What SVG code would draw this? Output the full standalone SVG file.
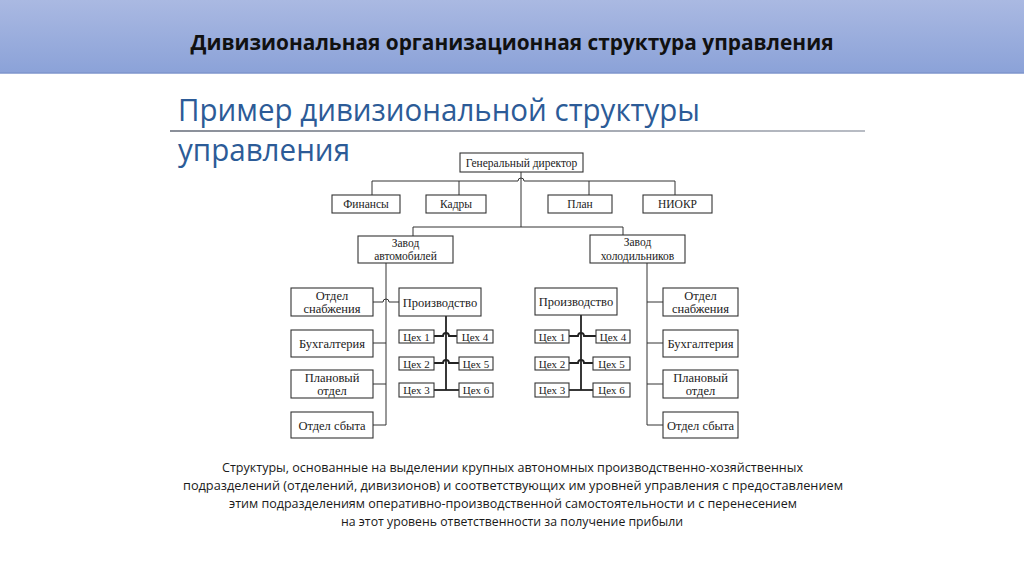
<svg xmlns="http://www.w3.org/2000/svg" width="1024" height="574" viewBox="0 0 1024 574">
<defs>
<linearGradient id="hdr" x1="0" y1="0" x2="0" y2="1">
<stop offset="0" stop-color="#aab9e2"/>
<stop offset="1" stop-color="#8ba2d8"/>
</linearGradient>
<linearGradient id="rule" x1="0" y1="0" x2="1" y2="0">
<stop offset="0" stop-color="#8a8f99"/>
<stop offset="1" stop-color="#b8bcc4"/>
</linearGradient>
<style>
.box{fill:#fff;stroke:#333;stroke-width:1.1}
.t{font-family:"Liberation Serif","Times New Roman",serif;font-size:11.5px;fill:#222;text-anchor:middle}
.tc{font-family:"Liberation Serif","Times New Roman",serif;font-size:11px;fill:#222;text-anchor:middle}
.t2{font-family:"Liberation Serif","Times New Roman",serif;font-size:12.5px;fill:#222;text-anchor:middle}
.ln{fill:none;stroke:#333;stroke-width:1}
.lnb{fill:none;stroke:#222;stroke-width:1.8}
.desc{font-family:"Open Sans","Liberation Sans",sans-serif;font-size:13.5px;fill:#1a1a1a;text-anchor:middle}
</style>
</defs>
<rect width="1024" height="574" fill="#fff"/>
<g id="header">
<rect x="0" y="0" width="1024" height="73" fill="url(#hdr)"/>
<line x1="0" y1="73" x2="1024" y2="73" stroke="#7e95cc" stroke-width="1.5"/>
<text x="512" y="50" text-anchor="middle" font-family="'Open Sans','Liberation Sans',sans-serif" font-weight="bold" font-size="21" fill="#111" textLength="643" lengthAdjust="spacingAndGlyphs">Дивизиональная организационная структура управления</text>
</g>
<g id="subtitle">
<text x="178" y="121" font-family="'Open Sans','Liberation Sans',sans-serif" font-size="31" fill="#2c5b97" textLength="522" lengthAdjust="spacingAndGlyphs">Пример дивизиональной структуры</text>
<rect x="170" y="130" width="695" height="2" fill="url(#rule)"/>
<text x="178" y="161" font-family="'Open Sans','Liberation Sans',sans-serif" font-size="31" fill="#2c5b97" textLength="172" lengthAdjust="spacingAndGlyphs">управления</text>
</g>
<g id="connectors">
<path class="ln" d="M521 172 V227"/>
<path class="ln" d="M372 181 H518 A3 3 0 0 1 524 181 H675"/>
<path class="ln" d="M372 181 V195 M459 181 V195 M589 181 V195 M675 181 V195"/>
<path class="ln" d="M413 236 V227 H623 V235"/>
<path class="ln" d="M386 263 V425 H373"/>
<path class="ln" d="M373 302 H383 A3 3 0 0 1 389 302 H399"/>
<path class="ln" d="M373 343 H386 M373 384 H386"/>
<path class="lnb" d="M446 316 V390"/>
<path class="lnb" d="M434 336 H443 A3 3 0 0 1 449 336 H457"/>
<path class="lnb" d="M434 363 H443 A3 3 0 0 1 449 363 H459"/>
<path class="lnb" d="M434 390 H459"/>
<path class="lnb" d="M581 315 V390"/>
<path class="lnb" d="M569 336 H578 A3 3 0 0 1 584 336 H596"/>
<path class="lnb" d="M569 363 H578 A3 3 0 0 1 584 363 H593"/>
<path class="lnb" d="M569 390 H593"/>
<path class="ln" d="M647 263 V425 H663 M647 302 H663 M647 343 H663 M647 384 H663"/>
</g>
<g id="director"><rect class="box" x="460" y="153" width="123" height="19"/><text class="t" x="521.5" y="166.5">Генеральный директор</text></g>
<g id="finance"><rect class="box" x="332" y="195" width="68" height="18"/><text class="t" x="366" y="208">Финансы</text></g>
<g id="hr"><rect class="box" x="426" y="195" width="60" height="18"/><text class="t" x="456" y="208">Кадры</text></g>
<g id="plan"><rect class="box" x="548" y="195" width="64" height="18"/><text class="t" x="580" y="208">План</text></g>
<g id="niokr"><rect class="box" x="643" y="195" width="69" height="18"/><text class="t" x="677.5" y="208">НИОКР</text></g>
<g id="plant-auto"><rect class="box" x="358" y="236" width="95" height="27"/><text class="t" x="405.5" y="247">Завод</text><text class="t" x="405.5" y="260">автомобилей</text></g>
<g id="plant-fridge"><rect class="box" x="590" y="235" width="95" height="28"/><text class="t" x="637.5" y="246">Завод</text><text class="t" x="637.5" y="260">холодильников</text></g>
<g id="l-supply"><rect class="box" x="291" y="288" width="82" height="28"/><text class="t2" x="332" y="299.5">Отдел</text><text class="t2" x="332" y="312.5">снабжения</text></g>
<g id="l-acc"><rect class="box" x="291" y="330" width="82" height="27"/><text class="t2" x="332" y="347.5">Бухгалтерия</text></g>
<g id="l-plan"><rect class="box" x="291" y="370" width="82" height="28"/><text class="t2" x="332" y="381.5">Плановый</text><text class="t2" x="332" y="394.5">отдел</text></g>
<g id="l-sales"><rect class="box" x="291" y="412" width="82" height="26"/><text class="t2" x="332" y="429.5">Отдел сбыта</text></g>
<g id="l-prod"><rect class="box" x="399" y="288" width="82" height="28"/><text class="t2" x="440" y="306.5">Производство</text></g>
<g id="l-c1"><rect class="box" x="399" y="330" width="35" height="13"/><text class="tc" x="416.5" y="340.5">Цех 1</text></g>
<g id="l-c2"><rect class="box" x="399" y="357" width="35" height="13"/><text class="tc" x="416.5" y="367.5">Цех 2</text></g>
<g id="l-c3"><rect class="box" x="399" y="383" width="35" height="14"/><text class="tc" x="416.5" y="394">Цех 3</text></g>
<g id="l-c4"><rect class="box" x="457" y="330" width="36" height="13"/><text class="tc" x="475" y="340.5">Цех 4</text></g>
<g id="l-c5"><rect class="box" x="459" y="357" width="34" height="13"/><text class="tc" x="476" y="367.5">Цех 5</text></g>
<g id="l-c6"><rect class="box" x="459" y="383" width="34" height="14"/><text class="tc" x="476" y="394">Цех 6</text></g>
<g id="r-prod"><rect class="box" x="535" y="288" width="82" height="27"/><text class="t2" x="576" y="306">Производство</text></g>
<g id="r-c1"><rect class="box" x="535" y="330" width="34" height="13"/><text class="tc" x="552" y="340.5">Цех 1</text></g>
<g id="r-c2"><rect class="box" x="535" y="357" width="34" height="13"/><text class="tc" x="552" y="367.5">Цех 2</text></g>
<g id="r-c3"><rect class="box" x="535" y="383" width="34" height="14"/><text class="tc" x="552" y="394">Цех 3</text></g>
<g id="r-c4"><rect class="box" x="596" y="330" width="34" height="13"/><text class="tc" x="613" y="340.5">Цех 4</text></g>
<g id="r-c5"><rect class="box" x="593" y="357" width="37" height="13"/><text class="tc" x="611.5" y="367.5">Цех 5</text></g>
<g id="r-c6"><rect class="box" x="593" y="383" width="37" height="14"/><text class="tc" x="611.5" y="394">Цех 6</text></g>
<g id="r-supply"><rect class="box" x="663" y="288" width="75" height="28"/><text class="t2" x="700.5" y="299.5">Отдел</text><text class="t2" x="700.5" y="312.5">снабжения</text></g>
<g id="r-acc"><rect class="box" x="663" y="330" width="75" height="27"/><text class="t2" x="700.5" y="347.5">Бухгалтерия</text></g>
<g id="r-plan"><rect class="box" x="663" y="370" width="75" height="28"/><text class="t2" x="700.5" y="381.5">Плановый</text><text class="t2" x="700.5" y="394.5">отдел</text></g>
<g id="r-sales"><rect class="box" x="663" y="412" width="75" height="26"/><text class="t2" x="700.5" y="429.5">Отдел сбыта</text></g>
<g id="description">
<text class="desc" x="512.5" y="471.5" textLength="581" lengthAdjust="spacingAndGlyphs">Структуры, основанные на выделении крупных автономных производственно-хозяйственных</text>
<text class="desc" x="513" y="489.5" textLength="660" lengthAdjust="spacingAndGlyphs">подразделений (отделений, дивизионов) и соответствующих им уровней управления с предоставлением</text>
<text class="desc" x="513" y="507.5" textLength="568" lengthAdjust="spacingAndGlyphs">этим подразделениям оперативно-производственной самостоятельности и с перенесением</text>
<text class="desc" x="512" y="525.5" textLength="342" lengthAdjust="spacingAndGlyphs">на этот уровень ответственности за получение прибыли</text>
</g>
</svg>
